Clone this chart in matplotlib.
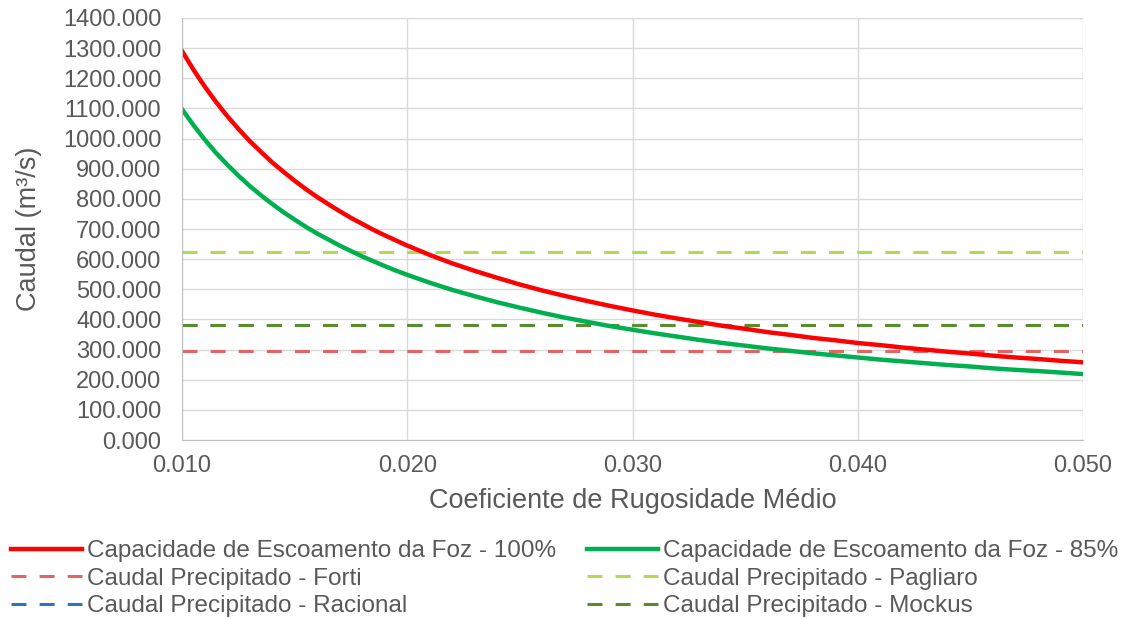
import matplotlib
matplotlib.use("Agg")
import matplotlib.pyplot as plt
from matplotlib.ticker import FormatStrFormatter, MultipleLocator

plt.rcParams['font.family'] = ['Liberation Sans', 'DejaVu Sans']

# Manning roughness coefficient (x axis)
rugosidade = [0.0100, 0.0105, 0.0110, 0.0115, 0.0120, 0.0125, 0.0130, 0.0135, 0.0140, 0.0145,
              0.0150, 0.0155, 0.0160, 0.0165, 0.0170, 0.0175, 0.0180, 0.0185, 0.0190, 0.0195,
              0.020, 0.021, 0.022, 0.023, 0.024, 0.025, 0.026, 0.027, 0.028, 0.029,
              0.030, 0.031, 0.032, 0.033, 0.034, 0.035, 0.036, 0.037, 0.038, 0.039,
              0.040, 0.041, 0.042, 0.043, 0.044, 0.045, 0.046, 0.047, 0.048, 0.049,
              0.050]
cap_100 = [1290, 1229, 1173, 1122, 1075, 1032, 992, 956, 921, 890,
           860, 832, 806, 782, 759, 737, 717, 697, 679, 662,
           645, 614, 586, 561, 538, 516, 496, 478, 461, 445,
           430, 416, 403, 391, 379, 369, 358, 349, 339, 331,
           322, 315, 307, 300, 293, 287, 280, 274, 269, 263,
           258]
cap_85 = [1097, 1045, 997, 953, 914, 877, 843, 812, 783, 756,
          731, 707, 685, 665, 645, 627, 609, 593, 577, 562,
          548, 522, 498, 477, 457, 439, 422, 406, 392, 378,
          366, 354, 343, 332, 322, 313, 304, 296, 288, 281,
          274, 267, 261, 255, 249, 244, 238, 233, 229, 224,
          219]
q_forti = 295
q_pagliaro = 623
q_racional = 381
q_mockus = 382

fig = plt.figure(figsize=(11.31, 6.19), dpi=100)
ax = fig.add_axes([0.161, 0.289, 0.7966, 0.682])

x0, x1 = rugosidade[0], rugosidade[-1]
dash_lw = 2.2
dpat = (4.9, 4.3)

l_fo, = ax.plot([x0, x1], [q_forti] * 2, color='#E06666', lw=dash_lw, dashes=dpat,
                label='Caudal Precipitado - Forti')
l_pa, = ax.plot([x0, x1], [q_pagliaro] * 2, color='#B3D94E', lw=dash_lw, dashes=dpat,
                label='Caudal Precipitado - Pagliaro')
l_ra, = ax.plot([x0, x1], [q_racional] * 2, color='#2E75B6', lw=dash_lw, dashes=dpat,
                label='Caudal Precipitado - Racional')
l_mo, = ax.plot([x0, x1], [q_mockus] * 2, color='#5E8A2E', lw=dash_lw, dashes=dpat,
                label='Caudal Precipitado - Mockus')
l_100, = ax.plot(rugosidade, cap_100, color='#FF0000', lw=3.2, solid_joinstyle='round',
                 label='Capacidade de Escoamento da Foz - 100%')
l_85, = ax.plot(rugosidade, cap_85, color='#00B050', lw=3.2, solid_joinstyle='round',
                label='Capacidade de Escoamento da Foz - 85%')

ax.set_xlim(0.010, 0.050)
ax.set_ylim(0, 1400)
ax.xaxis.set_major_locator(MultipleLocator(0.010))
ax.yaxis.set_major_locator(MultipleLocator(100))
ax.xaxis.set_major_formatter(FormatStrFormatter('%.3f'))
ax.yaxis.set_major_formatter(FormatStrFormatter('%.3f'))
ax.grid(True, color='#D9D9D9', lw=1.0)
ax.set_axisbelow(True)
for s in ax.spines.values():
    s.set_visible(False)
ax.spines['bottom'].set_visible(True)
ax.spines['bottom'].set_color('#BFBFBF')
ax.spines['left'].set_visible(True)
ax.spines['left'].set_color('#BFBFBF')
ax.tick_params(length=0, labelsize=17, labelcolor='#595959')
ax.tick_params(axis='y', pad=15)
ax.tick_params(axis='x', pad=11)
ax.set_xlabel('Coeficiente de Rugosidade Médio', fontsize=19.5, color='#595959', labelpad=8)
ax.set_ylabel('Caudal (m³/s)', fontsize=19.5, color='#595959', labelpad=15)

handles = [l_100, l_fo, l_ra, l_85, l_pa, l_mo]
leg = fig.legend(handles=handles, labels=[h.get_label() for h in handles],
                 loc='upper left', bbox_to_anchor=(-0.005, 0.155), ncol=2,
                 frameon=False, fontsize=17.5, handlelength=2.9, handletextpad=0.2,
                 columnspacing=1.3, labelspacing=0.23, borderaxespad=0.3)
for t in leg.get_texts():
    t.set_color('#595959')

fig.savefig('out.png', dpi=100)
